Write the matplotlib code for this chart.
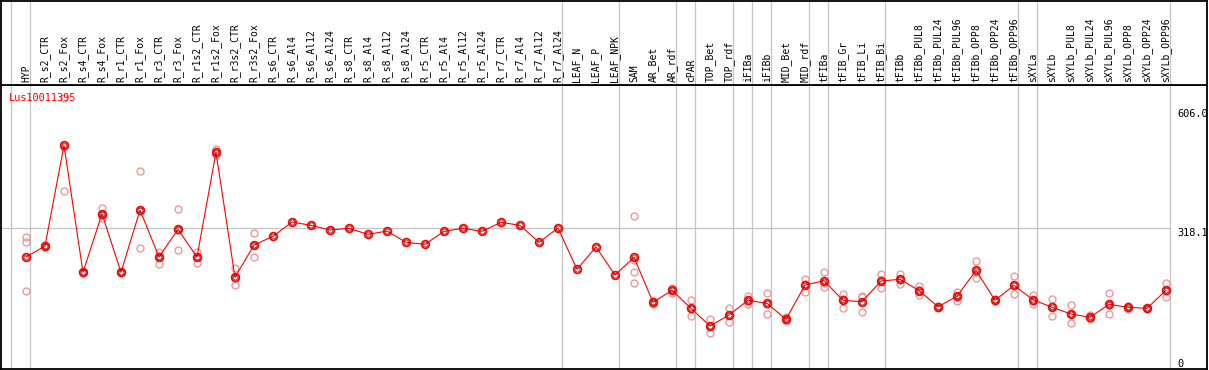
import matplotlib
matplotlib.use("Agg")
import matplotlib.pyplot as plt

gene = "Lus10011395"

samples = ["HYP", "R_s2_CTR", "R_s2_Fox", "R_s4_CTR", "R_s4_Fox", "R_r1_CTR", "R_r1_Fox",
           "R_r3_CTR", "R_r3_Fox", "R_r1s2_CTR", "R_r1s2_Fox", "R_r3s2_CTR", "R_r3s2_Fox",
           "R_s6_CTR", "R_s6_Al4", "R_s6_Al12", "R_s6_Al24",
           "R_s8_CTR", "R_s8_Al4", "R_s8_Al12", "R_s8_Al24",
           "R_r5_CTR", "R_r5_Al4", "R_r5_Al12", "R_r5_Al24",
           "R_r7_CTR", "R_r7_Al4", "R_r7_Al12", "R_r7_Al24",
           "LEAF_N", "LEAF_P", "LEAF_NPK", "SAM", "AR_Bet", "AR_rdf", "cPAR",
           "TOP_Bet", "TOP_rdf", "iFIBa", "iFIBb", "MID_Bet", "MID_rdf",
           "tFIBa", "tFIB_Gr", "tFIB_Li", "tFIB_Bi", "tFIBb",
           "tFIBb_PUL8", "tFIBb_PUL24", "tFIBb_PUL96", "tFIBb_OPP8", "tFIBb_OPP24", "tFIBb_OPP96",
           "sXYLa", "sXYLb",
           "sXYLb_PUL8", "sXYLb_PUL24", "sXYLb_PUL96", "sXYLb_OPP8", "sXYLb_OPP24", "sXYLb_OPP96"]

# mean expression per sample
means = [246.7, 273.3, 516.9, 209.7, 351.5, 209.7, 360.4, 246.7, 313.7, 246.7, 500.0, 197.6, 275.8,
         296.8, 331.4, 323.4, 312.0, 316.2, 301.6, 309.6, 282.3,
         277.5, 308.9, 316.2, 308.9, 330.7, 323.4, 282.3, 316.9,
         217.0, 270.9, 203.2, 246.0, 137.2, 166.2, 122.6, 79.8, 106.4, 142.0, 134.7, 96.0, 179.0,
         189.4, 142.0, 138.6, 188.7, 192.8, 165.7, 126.5, 151.7, 214.6, 142.0, 178.3,
         143.4, 125.1, 108.9, 100.9, 132.3, 125.1, 122.6, 166.2]

# individual replicates (empty where none shown)
replicates = [[294.4, 282.3, 163.8], [271, 274, 275], [632, 514, 406], [208, 210, 211],
              [365, 349, 340], [208, 210, 211], [454, 359, 268], [260, 250, 230],
              [364, 313, 264], [260, 247, 233], [508, 499, 493], [219, 194, 179],
              [304, 276, 247],
              [], [], [], [], [], [], [], [], [], [], [], [], [], [], [], [],
              [], [], [],
              [345, 240, 210, 183], [133, 137, 141], [172, 167, 159], [142, 122, 103],
              [96, 81, 62], [123, 107, 90], [153, 140, 133], [160, 134, 110],
              [91, 96, 101], [194, 181, 162], [210, 184, 175], [157, 146, 123],
              [151, 152, 113], [205, 190, 171], [206, 191, 181], [177, 166, 154],
              [124, 127, 128], [163, 152, 140], [237, 211, 195], [140, 142, 144],
              [200, 178, 157], [156, 141, 134], [144, 128, 103], [130, 110, 86],
              [106, 100, 97], [159, 130, 108], [128, 125, 122], [121, 123, 124],
              [183, 165, 151]]

# separators drawn right after these samples
sep_after = ["HYP", "R_r7_Al24", "LEAF_NPK", "AR_rdf", "cPAR", "TOP_rdf", "iFIBa", "iFIBb",
             "MID_rdf", "tFIBa", "tFIB_Bi", "tFIBb_OPP96", "sXYLa", "sXYLb_OPP96"]

scale_vals = [606.0, 318.1, 0]
scale_labels = ["606.0", "318.1", "0"]

W, H = 1209, 370
fig = plt.figure(figsize=(W / 100, H / 100), dpi=100)

head_px = 85
bot_px = 368.5
ax = fig.add_axes([1 / W, (H - bot_px) / H, 1205.5 / W, (bot_px - head_px) / H])
axh = fig.add_axes([1 / W, (H - head_px) / H, 1205.5 / W, (head_px - 0.5) / H])

x0 = (1 - 26) / 19
x1 = (1206.5 - 26) / 19
for a in (ax, axh):
    a.set_xlim(x0, x1)
    a.set_xticks([])
    a.set_yticks([])
    for s in a.spines.values():
        s.set_color("black")
        s.set_linewidth(1.3)
ax.set_ylim(-23, 663)
axh.set_ylim(0, 1)

mono = "DejaVu Sans Mono"
grey = "#c4c4c4"

# separator lines
seps = [-0.8] + [samples.index(s) + 0.23 for s in sep_after]
for a in (ax, axh):
    for xs in seps:
        a.axvline(xs, color=grey, lw=0.9, zorder=1)

ax.hlines(scale_vals[1], x0, seps[-1], color=grey, lw=0.9, zorder=1)

# sample labels
for i, name in enumerate(samples):
    axh.text(i, 0.03, name, rotation=90, ha="center", va="bottom",
             fontsize=7, family=mono, color="black")

xs = list(range(len(samples)))

for i, r in enumerate(replicates):
    if r:
        ax.plot([i] * len(r), r, "o", ms=5, mfc="none", mec="#ec9a9a", mew=1.0, zorder=2)

ax.plot(xs, means, "-", color="red", lw=0.8, zorder=3)
ax.plot(xs, means, "o", ms=5.6, mfc="none", mec="red", mew=1.2, zorder=4)
ax.plot(xs, means, "o", ms=3.6, mfc="none", mec="#700000", mew=0.5, zorder=5)

ax.text(-0.9, 643, gene, ha="left", va="top", fontsize=7.4, family=mono, color="red", zorder=6)

for v, lab in zip(scale_vals, scale_labels):
    ax.text(60.58, v, lab, ha="left", va="top", fontsize=7.4, family=mono,
            color="black", clip_on=True)

fig.savefig("out.png", dpi=100)
